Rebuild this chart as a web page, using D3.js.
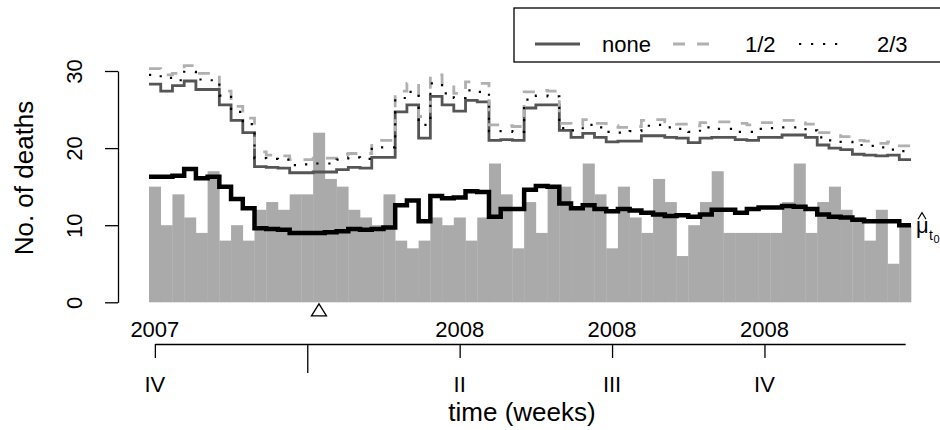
<!DOCTYPE html>
<html>
<head>
<meta charset="utf-8">
<script src="https://cdn.jsdelivr.net/npm/d3@7"></script>
<style>
  html, body { margin: 0; padding: 0; background: #fff; }
  svg { display: block; font-family: "Liberation Sans", Arial, Helvetica, sans-serif; }
</style>
</head>
<body>
<svg id="chart" width="940" height="430"></svg>
<script>
// Weekly number of deaths
const observed = [15, 10, 14, 11, 9, 17, 8, 10, 8, 12, 13, 12, 14, 14, 22, 16, 15, 12, 11, 10,
                  14, 8, 7, 8, 11, 10, 11, 8, 11, 18, 14, 7, 13, 9, 15, 15, 12, 18, 14, 7,
                  15, 11, 9, 16, 13, 6, 10, 13, 17, 9, 9, 9, 9, 9, 13, 18, 9, 13, 15, 12,
                  11, 8, 12, 5, 10];

// Estimated expected count
const muHat = [16.3, 16.3, 16.4, 17.3, 16.1, 16.3, 15.0, 13.4, 12.2, 9.6, 9.5, 9.4, 9.0, 9.0, 9.0, 9.1, 9.2, 9.5, 9.4, 9.5,
               9.7, 12.6, 13.2, 10.5, 13.8, 13.5, 13.6, 14.4, 14.3, 11.1, 12.1, 12.1, 14.6, 15.1, 15.0, 12.8, 12.2, 12.6, 12.1, 11.8,
               12.1, 11.9, 11.6, 11.4, 11.2, 11.3, 11.1, 11.4, 12.0, 12.0, 11.6, 12.1, 12.3, 12.3, 12.5, 12.4, 12.1, 11.4, 11.1, 11.0,
               10.7, 10.5, 10.5, 10.5, 10.0];

// Upper bounds for the three power transformations
const upperNone = [28.3, 27.4, 28.1, 28.7, 27.6, 27.6, 25.6, 23.6, 22.0, 17.6, 17.5, 17.4, 16.8, 16.8, 16.9, 16.9, 17.2, 17.5, 17.4, 18.8,
                   18.8, 24.7, 25.6, 21.3, 26.7, 25.6, 24.8, 26.2, 26.0, 21.0, 21.1, 21.0, 25.2, 25.6, 25.6, 22.3, 21.4, 21.9, 21.4, 20.8,
                   20.9, 20.9, 21.6, 21.6, 21.4, 21.3, 20.7, 21.3, 21.4, 21.4, 21.1, 21.0, 21.4, 21.4, 21.7, 21.7, 21.4, 20.4, 20.0, 19.8,
                   19.2, 19.1, 19.0, 19.1, 18.5];
const upperHalf = [30.3, 29.5, 29.7, 30.7, 29.7, 29.7, 27.4, 25.4, 23.9, 19.5, 19.1, 19.0, 18.5, 18.5, 18.7, 18.7, 19.2, 19.3, 19.3, 21.0,
                   21.0, 27.4, 28.4, 24.1, 29.5, 28.2, 27.1, 28.6, 28.4, 23.0, 22.9, 22.8, 27.3, 27.5, 27.4, 23.2, 22.9, 23.7, 23.2, 22.9,
                   22.7, 22.8, 23.6, 23.7, 23.4, 23.1, 22.9, 23.3, 23.4, 23.4, 23.2, 23.0, 23.3, 23.3, 23.6, 23.6, 23.1, 22.0, 21.6, 21.5,
                   21.0, 20.9, 20.6, 20.8, 20.3];
const upperTwoThirds = [29.5, 29.1, 28.8, 29.9, 28.9, 28.8, 26.8, 24.7, 23.1, 18.7, 18.6, 18.5, 17.8, 17.9, 18.0, 18.0, 18.5, 18.8, 18.6, 20.1,
                        20.1, 26.5, 27.3, 23.0, 28.4, 27.1, 26.5, 27.5, 27.3, 22.2, 22.2, 22.1, 26.3, 26.8, 26.7, 22.6, 22.3, 23.0, 22.7, 22.1,
                        22.0, 22.2, 22.9, 23.0, 22.7, 22.5, 22.1, 22.7, 22.5, 22.5, 22.1, 22.1, 22.5, 22.6, 22.7, 22.7, 22.3, 21.4, 21.0, 20.8,
                        20.4, 20.3, 20.1, 19.8, 19.6];

// Weeks raising an alarm
const alarmWeeks = [14];

// Axis ticks
const yTicks = [0, 10, 20, 30];
const tickWeeks = [0, 13, 26, 39, 52];
const yearLabels = ["2007", "", "2008", "2008", "2008"];
const quarterLabels = ["IV", "", "II", "III", "IV"];
const yearStartWeek = 13;

// Legend entries
const legendLabels = ["none", "1/2", "2/3"];

const svg = d3.select("#chart");
const n = observed.length;

const x = d3.scaleLinear().domain([0, n]).range([149, 911]);          // bar edges
const xWeek = d3.scaleLinear().domain([0, n - 1]).range([x(0.5), x(n - 0.5)]); // bar centres
const y = d3.scaleLinear().domain([0, 30]).range([302.3, 71]);

// Bars
svg.append("g")
  .selectAll("rect")
  .data(observed)
  .join("rect")
  .attr("x", (d, i) => x(i))
  .attr("width", x(1) - x(0) + 0.3)
  .attr("y", d => y(d))
  .attr("height", d => y(0) - y(d))
  .attr("fill", "#aaaaaa");

// Step lines
const step = d3.line()
  .x(d => x(d[0]))
  .y(d => y(d[1]))
  .curve(d3.curveStepAfter);
const stepPoints = vals => vals.map((v, i) => [i, v]).concat([[vals.length, vals[vals.length - 1]]]);

const lineStyles = [
  { values: upperNone, stroke: "#555555", width: 2.8, dash: null },
  { values: upperHalf, stroke: "#b0b0b0", width: 2.8, dash: "12 12" },
  { values: upperTwoThirds, stroke: "#000000", width: 2.2, dash: "2.2 9.8" }
];

svg.append("g")
  .selectAll("path")
  .data(lineStyles)
  .join("path")
  .attr("d", d => step(stepPoints(d.values)))
  .attr("fill", "none")
  .attr("stroke", d => d.stroke)
  .attr("stroke-width", d => d.width)
  .attr("stroke-dasharray", d => d.dash);

svg.append("path")
  .attr("d", step(stepPoints(muHat)))
  .attr("fill", "none")
  .attr("stroke", "#000")
  .attr("stroke-width", 4.5);

// Label for the expected count line
const muX = x(n) + 5;
const muY = y(muHat[n - 1]) + 8;
const muLabel = svg.append("g").attr("transform", `translate(${muX},${muY})`);
muLabel.append("text").attr("x", 0).attr("y", 0).attr("font-size", 22).text("μ");
muLabel.append("path").attr("d", "M2,-14 L6,-20.5 L10,-14").attr("fill", "none").attr("stroke", "#000").attr("stroke-width", 1.2);
muLabel.append("text").attr("x", 13).attr("y", 7).attr("font-size", 14).attr("fill", "#000").text("t");
muLabel.append("text").attr("x", 17.5).attr("y", 10).attr("font-size", 11).attr("fill", "#000").text("0");

// Alarm markers
svg.append("g")
  .selectAll("path")
  .data(alarmWeeks)
  .join("path")
  .attr("d", d => {
    const cx = xWeek(d), top = y(0) + 1.5;
    return `M${cx},${top} L${cx + 7.5},${top + 12} L${cx - 7.5},${top + 12} Z`;
  })
  .attr("fill", "none")
  .attr("stroke", "#000")
  .attr("stroke-width", 1.3);

// Y axis
const yAxis = svg.append("g")
  .attr("transform", "translate(118,0)")
  .call(d3.axisLeft(y).tickValues(yTicks).tickSize(13).tickSizeOuter(0));
yAxis.selectAll("path, line").attr("stroke", "#000").attr("stroke-width", 1.3);
yAxis.selectAll("text")
  .attr("x", null).attr("dy", null)
  .attr("transform", "translate(-36,0) rotate(-90)")
  .attr("text-anchor", "middle")
  .attr("font-size", 22)
  .attr("font-family", "Liberation Sans, Arial, sans-serif")
  .attr("fill", "#000");

// X axis
const xAxis = svg.append("g")
  .attr("transform", "translate(0,344)")
  .call(d3.axisBottom(xWeek).tickValues(tickWeeks).tickSize(14).tickSizeOuter(0).tickFormat(""));
xAxis.selectAll("path, line").attr("stroke", "#000").attr("stroke-width", 1.3);
xAxis.selectAll(".tick line").filter(d => d === yearStartWeek).attr("y2", 29);

svg.append("g")
  .selectAll("text")
  .data(tickWeeks)
  .join("text")
  .attr("x", d => xWeek(d))
  .attr("y", 337)
  .attr("text-anchor", "middle")
  .attr("font-size", 22)
  .text((d, i) => yearLabels[i]);

svg.append("g")
  .selectAll("text")
  .data(tickWeeks)
  .join("text")
  .attr("x", d => xWeek(d))
  .attr("y", 392)
  .attr("text-anchor", "middle")
  .attr("font-size", 22)
  .text((d, i) => quarterLabels[i]);

// Axis titles
svg.append("text")
  .attr("transform", "translate(33,178) rotate(-90)")
  .attr("text-anchor", "middle")
  .attr("font-size", 26)
  .text("No. of deaths");

svg.append("text")
  .attr("x", 522)
  .attr("y", 421)
  .attr("text-anchor", "middle")
  .attr("font-size", 26)
  .text("time (weeks)");

// Legend
const legend = svg.append("g");
legend.append("rect")
  .attr("x", 514).attr("y", 8).attr("width", 440).attr("height", 54)
  .attr("fill", "#fff").attr("stroke", "#000").attr("stroke-width", 1.3);

const legendItems = [
  { x0: 535, x1: 580, tx: 602, style: lineStyles[0] },
  { x0: 673, x1: 709, tx: 745, style: lineStyles[1] },
  { x0: 799, x1: 839, tx: 877, style: lineStyles[2] }
];
legendItems.forEach((item, i) => {
  legend.append("line")
    .attr("x1", item.x0).attr("x2", item.x1).attr("y1", 44).attr("y2", 44)
    .attr("stroke", item.style.stroke)
    .attr("stroke-width", item.style.width)
    .attr("stroke-dasharray", item.style.dash);
  legend.append("text")
    .attr("x", item.tx).attr("y", 52)
    .attr("font-size", 22)
    .text(legendLabels[i]);
});
</script>
</body>
</html>
